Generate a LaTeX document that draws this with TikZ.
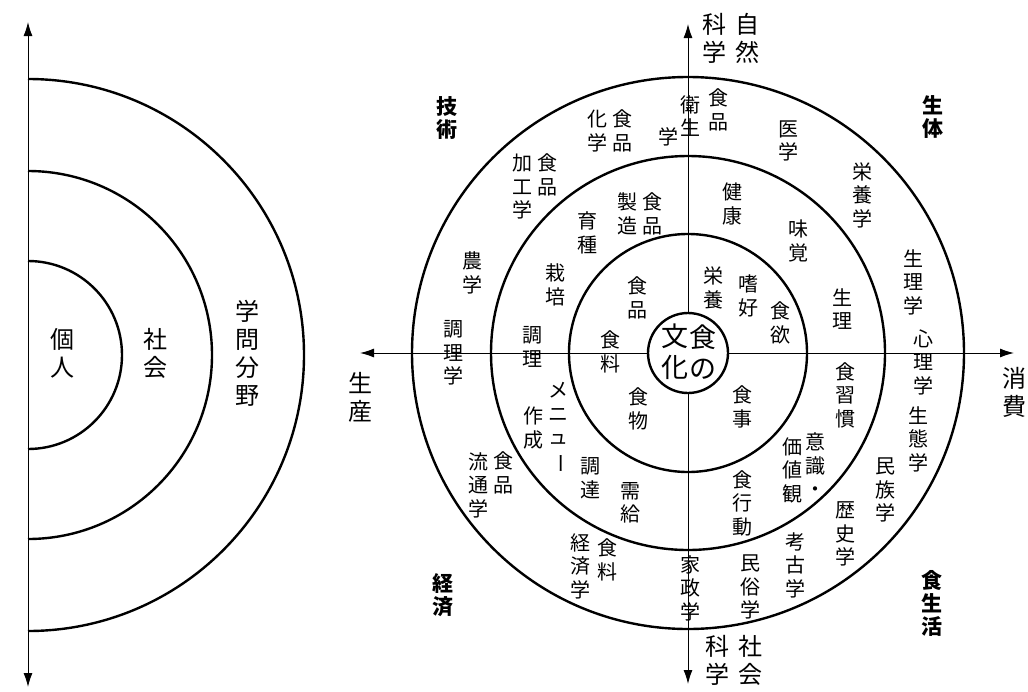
\documentclass[tikz,border=0pt]{standalone}
\usepackage{fontspec}
\newfontfamily\jp{Noto Sans CJK JP}
\usetikzlibrary{arrows.meta,positioning}

\begin{document}
\begin{tikzpicture}[x=1pt,y=-1pt,
    ring/.style={line width=2.4pt},
    ax/.style={line width=1pt,{Latex[length=14pt,width=9pt]}-{Latex[length=14pt,width=9pt]}},
    lab/.style={align=center,inner sep=0pt,font=\jp\fontsize{20}{23.5}\selectfont},
    labb/.style={lab,font=\jp\bfseries\fontsize{21}{23}\selectfont},
    labl/.style={lab,font=\jp\fontsize{24}{28}\selectfont},
    labc/.style={lab,font=\jp\fontsize{27}{31}\selectfont}]
  \useasboundingbox (0,0) rectangle (1028,691);
  % left: individual, society, discipline
  \coordinate (lc) at (28,355);
  \coordinate (lt) at (28,22); \coordinate (lb) at (28,687);
  \foreach \r in {94,184,276} \draw[ring] (lc) ++(0,-\r) arc (-90:90:\r);
  \draw[ax] (lb) -- (lt);
  \node[labl] (kojin) at (62,353) {個\\人};
  \node[labl] (shakai) at (155,353) {社\\会};
  \node[labl] (gakumon) at (247,353) {学\\問\\分\\野};

  % right: food culture
  \coordinate (C) at (688,353);
  \coordinate (N) at (688,24); \coordinate (S) at (688,684);
  \coordinate (W) at (360,353); \coordinate (E) at (1014,353);
  \foreach \r in {119,197,276} \draw[ring] (C) circle (\r);
  \draw[ax] (W) -- (E);
  \draw[ax] (S) -- (N);
  \node[circle,draw,ring,fill=white,minimum size=80pt,inner sep=0pt] (core) at (C) {};
  \node[labc] (bunka1) at (703,352) {食\\の};
  \node[labc,left=1pt of bunka1] (bunka2) {文\\化};

  % axis ends
  \node[labl] (shizen) at (747,38) {自\\然};
  \node[labl,left=8pt of shizen] (shizen2) {科\\学};
  \node[labl] (shakaik) at (750,660) {社\\会};
  \node[labl,left=8pt of shakaik] (shakaik2) {科\\学};
  \node[labl,below=19pt of W] (seisan) {生\\産};
  \node[labl,below=14pt of E] (shohi) {消\\費};

  % quadrants
  \node[labb] (gijutsu) at (447,118) {技\\術};
  \node[labb] (seitai) at (933,117) {生\\体};
  \node[labb] (keizai) at (443,595) {経\\済};
  \node[labb] (seikatsu) at (932,603) {食\\生\\活};

  % first ring
  \node[lab] (shokuhin) at (637,298) {食\\品};
  \node[lab] (eiyo) at (713,288) {栄\\養};
  \node[lab] (shiko) at (748,296) {嗜\\好};
  \node[lab] (shokuyoku) at (780,323) {食\\欲};
  \node[lab] (shokuryo) at (610,352) {食\\料};
  \node[lab] (tabemono) at (638,409) {食\\物};
  \node[lab] (shokuji) at (742,407) {食\\事};

  % second ring
  \node[lab] (seizo1) at (652,214) {食\\品};
  \node[lab] (seizo2) at (627,214) {製\\造};
  \node[lab] (ikushu) at (587,233) {育\\種};
  \node[lab] (saibai) at (555,285) {栽\\培};
  \node[lab] (chori) at (532,347) {調\\理};
  \node[lab] (menu1) at (558,428) {メ\\ニ\\ュ\\\rotatebox[origin=c]{-90}{ー}};
  \node[lab] (menu2) at (533,428) {作\\成};
  \node[lab] (chotatsu) at (590,478) {調\\達};
  \node[lab] (jukyu) at (630,503) {需\\給};
  \node[lab] (kenko) at (732,204) {健\\康};
  \node[lab] (mikaku) at (798,241) {味\\覚};
  \node[lab] (seiri) at (842,309) {生\\理};
  \node[lab] (shukan) at (845,395) {食\\習\\慣};
  \node[lab] (ishiki) at (815,465) {意\\識\\・};
  \node[lab] (kachikan) at (792,470) {価\\値\\観};
  \node[lab] (kodo) at (742,503) {食\\行\\動};

  % third ring
  \node[lab] (eisei1) at (718,110) {食\\品};
  \node[lab] (eisei2) at (690,116) {衛\\生};
  \node[lab] (eisei3) at (668,137) {学};
  \node[lab] (kagaku1) at (622,131) {食\\品};
  \node[lab] (kagaku2) at (597,131) {化\\学};
  \node[lab] (kako1) at (547,175) {食\\品};
  \node[lab] (kako2) at (522,187) {加\\工\\学};
  \node[lab] (nogaku) at (472,273) {農\\学};
  \node[lab] (chorigaku) at (453,353) {調\\理\\学};
  \node[lab] (ryutsu1) at (503,473) {食\\品};
  \node[lab] (ryutsu2) at (478,485) {流\\通\\学};
  \node[lab] (keizaigaku1) at (607,560) {食\\料};
  \node[lab] (keizaigaku2) at (580,566) {経\\済\\学};
  \node[lab] (kasei) at (690,588) {家\\政\\学};
  \node[lab] (minzoku) at (750,587) {民\\俗\\学};
  \node[lab] (koko) at (795,565) {考\\古\\学};
  \node[lab] (rekishi) at (845,534) {歴\\史\\学};
  \node[lab] (minzoku2) at (885,490) {民\\族\\学};
  \node[lab] (seitaigaku) at (918,439) {生\\態\\学};
  \node[lab] (shinri) at (923,362) {心\\理\\学};
  \node[lab] (seirigaku) at (913,282) {生\\理\\学};
  \node[lab] (eiyogaku) at (862,195) {栄\\養\\学};
  \node[lab] (igaku) at (788,141) {医\\学};
\end{tikzpicture}
\end{document}
